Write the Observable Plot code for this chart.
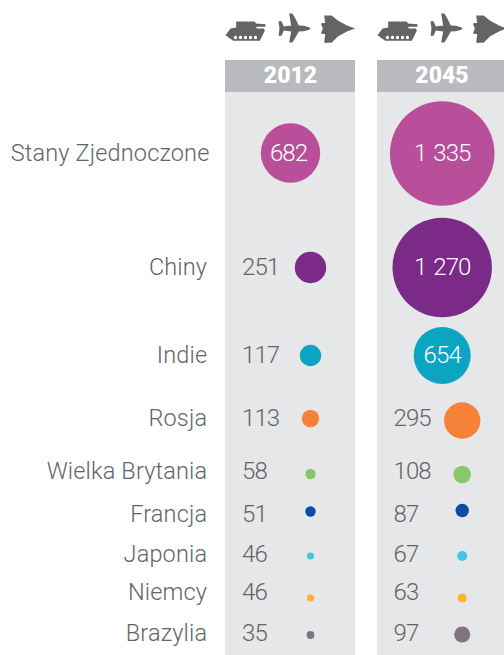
<!DOCTYPE html>
<html><head><meta charset="utf-8">
<style>html,body{margin:0;padding:0;background:#fff}svg{display:block}
.nums text{letter-spacing:-0.9px;word-spacing:2px}
.names text{letter-spacing:0.15px}
</style>
<script src="https://cdn.jsdelivr.net/npm/d3@7"></script>
<script src="https://cdn.jsdelivr.net/npm/@observablehq/plot@0.6"></script>
</head><body><script>
const countries = ["Stany Zjednoczone","Chiny","Indie","Rosja","Wielka Brytania","Francja","Japonia","Niemcy","Brazylia"];
const years = ["2012","2045"];
const values2012 = [682,251,117,113,58,51,46,46,35];
const values2045 = [1335,1270,654,295,108,87,67,63,97];
const countryColors = ["#b94f9b","#7b2a87","#0ba5c3","#f6823a","#88c866","#0c4da2","#45c4e2","#fbb431","#7f747b"];

const xSlots = [["label",206.7],["labelLong",209],["p2012a",225],["p2012b",355],["p2045a",377],["p2045b",510],
  ["val2012",241.5],["in2012",290],["txt2012",288],["dot2012",310],["val2045",393],["in2045",441.7],["txt2045",441.7],["dot2045",461.7],
  ["head2012",290],["head2045",441.5],
  ["tank2012",245],["plane2012",294],["jet2012",337],["tank2045",397],["plane2045",446],["jet2045",489]];
const textRows = [153,267,355,418,471,514,554,592,633];
const dotRows2012 = [152.5,267,355,418,473.5,511,555.5,597.5,634.5];
const dotRows2045 = [153,267,355,420,474,510,555.5,597.5,634];
const ySlots = [["icons",28],["headTop",60],["headText",75.5],["headBottom",92],["bottom",660],
  ...countries.map((c,i)=>["text "+c,textRows[i]]),
  ...countries.map((c,i)=>["2012 "+c,dotRows2012[i]]),
  ...countries.map((c,i)=>["2045 "+c,dotRows2045[i]])];
const X = n => xSlots.findIndex(s=>s[0]===n);
const Y = n => ySlots.findIndex(s=>s[0]===n);
const rDomain = [35,46,51,58,63,67,87,97,108,113,117,251,295,654,682,1270,1335];
const rRange  = [3.9,3.6,5.2,5.2,4.5,5,6.7,8,8.8,8.7,10.7,15.7,18.2,28.5,29.7,49.7,52.3];

const inside = 600;
const rows = years.flatMap((year,k)=>(k?values2045:values2012).map((value,i)=>({year,value,country:countries[i]})));
const panels = years.map(year=>({year}));

function shape(polys,cx,cy,holes=[]){
  return {draw(ctx,size){
    const s=Math.sqrt(size/Math.PI)/20/3;
    for(const p of polys){p.forEach(([x,y],i)=>{const a=(x-cx)*s,b=(y-cy)*s;i?ctx.lineTo(a,b):ctx.moveTo(a,b)});ctx.closePath();}
    for(const [x,y,r] of holes){const a=(x-cx)*s,b=(y-cy)*s;ctx.moveTo(a+r*s,b);ctx.arc(a,b,r*s,0,2*Math.PI,true);ctx.closePath();}
  }};
}
const tank = shape([[[47,64],[103,64],[106,70],[135,72],[135,80],[108,80],[108,85],[130,85],[133,92],[118,122],[38,122],[15,105],[30,85],[47,82]]],75,85,
  [45,60,75,90,105].map(x=>[x,112,5]));
const plane = shape([[[270,85],[266,81],[250,77],[235,76],[226,58],[216,40],[206,40],[212,76],[190,79],[183,63],[174,63],[177,85],[174,107],[183,107],[190,91],[212,94],[206,127],[216,127],[226,110],[235,94],[250,93],[266,89]]],222,85);
const jet = shape([[[403,85],[380,77],[352,62],[332,46],[310,46],[313,68],[300,70],[306,85],[300,100],[313,102],[310,128],[332,128],[352,108],[380,93]]],350,85);

const grey="#636466", font="Roboto, Lato, sans-serif";
const chart = Plot.plot({
  width:504,height:655,margin:0,
  x:{type:"linear",domain:d3.range(xSlots.length),range:xSlots.map(s=>s[1]),axis:null},
  y:{type:"linear",domain:d3.range(ySlots.length),range:ySlots.map(s=>s[1]),axis:null},
  r:{type:"linear",domain:rDomain,range:rRange},
  color:{type:"ordinal",domain:countries,range:countryColors},
  style:{fontFamily:font,background:"#fff"},
  marks:[
    Plot.rectY(panels,{x1:d=>X("p"+d.year+"a"),x2:d=>X("p"+d.year+"b"),y1:Y("headBottom"),y2:Y("bottom"),fill:"#e6e7e9"}),
    Plot.rectY(panels,{x1:d=>X("p"+d.year+"a"),x2:d=>X("p"+d.year+"b"),y1:Y("headTop"),y2:Y("headBottom"),fill:"#b9babd"}),
    Plot.text(panels,{x:d=>X("head"+d.year),y:Y("headText"),text:"year",fill:"#fff",fontSize:23,fontWeight:900}),
    ...[["tank",tank],["plane",plane],["jet",jet]].map(([n,symbol])=>
      Plot.dot(years,{x:d=>X(n+d),y:Y("icons"),r:20,symbol,fill:"#636466",stroke:"none"})),
    Plot.text(countries,{className:"names",x:c=>X(c.length>15?"labelLong":"label"),y:c=>Y("text "+c),text:c=>c,textAnchor:"end",fontSize:23.5,fontWeight:300,fill:grey}),
    Plot.dot(rows,{x:d=>X((d.value>inside?"in":"dot")+d.year),y:d=>Y(d.year+" "+d.country),r:"value",fill:"country",stroke:"none"}),
    Plot.text(rows.filter(d=>d.value<=inside),{className:"nums",x:d=>X("val"+d.year),y:d=>Y("text "+d.country),text:d=>String(d.value),textAnchor:"start",fontSize:24,fontWeight:300,fill:grey}),
    Plot.text(rows.filter(d=>d.value>inside),{className:"nums",x:d=>X("txt"+d.year),y:d=>Y("text "+d.country),text:d=>d3.format(",")(d.value).replace(","," "),fontSize:24,fontWeight:300,fill:"#fff"})
  ]
});
document.body.append(chart);
</script></body></html>
